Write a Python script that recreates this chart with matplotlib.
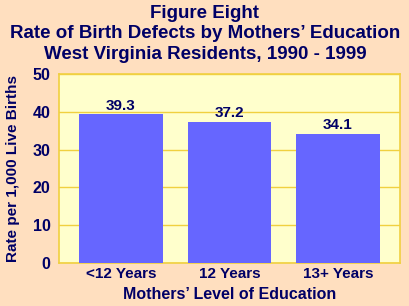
import matplotlib
matplotlib.use("Agg")
import matplotlib.pyplot as plt

plt.rcParams['font.family'] = ['Liberation Sans', 'DejaVu Sans']

# data
categories = ["<12 Years", "12 Years", "13+ Years"]
rates = [39.3, 37.2, 34.1]
yticks = [0, 10, 20, 30, 40, 50]

navy = "#000066"

fig = plt.figure(figsize=(4.1, 3.06), dpi=100, facecolor="#ffdfbf")
ax = fig.add_axes([59/410, 1 - 263/306, 341/410, 189/306])
ax.set_facecolor("#ffffcc")

x = list(range(len(categories)))
ax.bar(x, rates, width=0.77, color="#6666ff", zorder=3)
for xi, v in zip(x, rates):
    ax.text(xi, v + 0.5, "%.1f" % v, ha="center", va="bottom",
            fontsize=11, fontweight="bold", color=navy, zorder=4)

ax.set_xlim(-0.571, 2.571)
ax.set_ylim(0, 50)
ax.set_yticks(yticks)
ax.yaxis.grid(True, color="#f0d040", linewidth=1, zorder=0)
ax.tick_params(axis="both", length=0, labelsize=11.5, labelcolor=navy)
ax.tick_params(axis="y", pad=6)
ax.tick_params(axis="x", pad=3)
for lab in ax.get_yticklabels():
    lab.set_fontweight("bold")
ax.set_xticks(x)
ax.set_xticklabels(categories, fontweight="bold", fontsize=11)
for s in ax.spines.values():
    s.set_color("#f0d040")
    s.set_linewidth(1.2)

ax.set_ylabel("Rate per 1,000 Live Births", fontsize=11, fontweight="bold",
              color=navy, labelpad=9)
ax.set_xlabel("Mothers\u2019 Level of Education", fontsize=11.5, fontweight="bold",
              color=navy, labelpad=4)

fig.text(0.5, 0.983, "Figure Eight\nRate of Birth Defects by Mothers\u2019 Education\nWest Virginia Residents, 1990 - 1999",
         ha="center", va="top", fontsize=13.5, fontweight="bold", color=navy,
         linespacing=1.25)

fig.savefig("out.png", dpi=100, facecolor=fig.get_facecolor())
